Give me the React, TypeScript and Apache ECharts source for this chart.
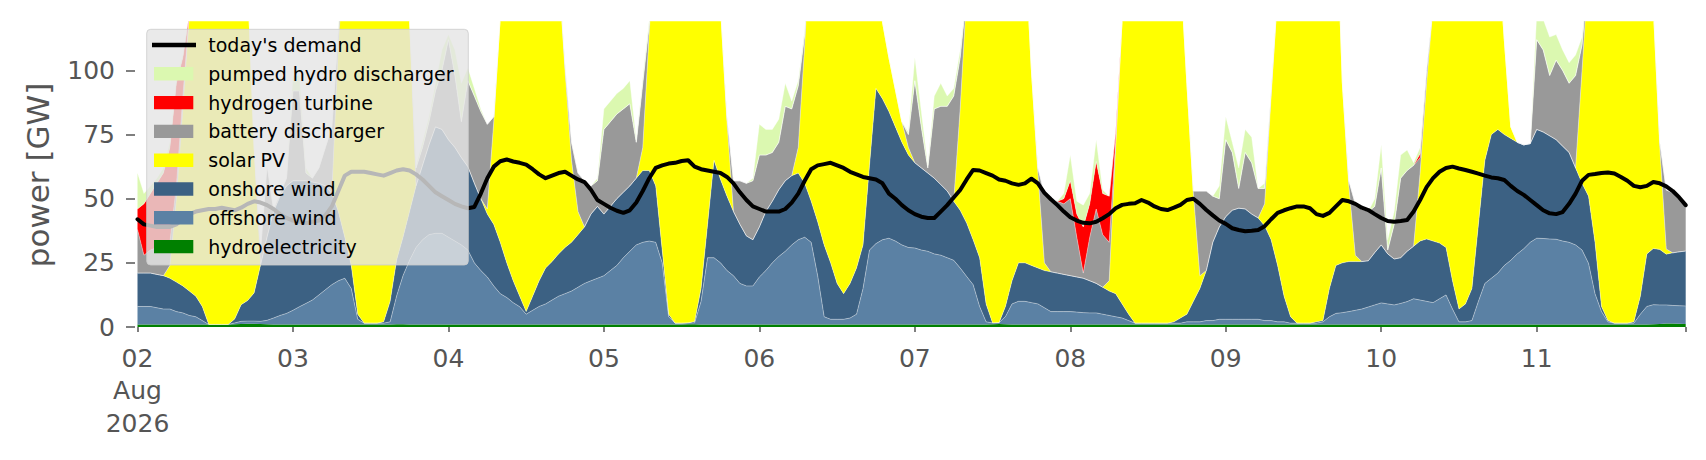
import React, { useEffect, useRef } from "react";
import * as echarts from "echarts";

const FONT = "'DejaVu Sans', 'Liberation Sans', sans-serif";

// x axis: hourly steps from 02 Aug 2026 00:00 to 11 Aug 23:00
const dayTickHours = [0, 24, 48, 72, 96, 120, 144, 168, 192, 216];
const dayTickLabels = ["02\nAug\n2026", "03", "04", "05", "06", "07", "08", "09", "10", "11"];
const lastHour = 239;
const yTicks = [0, 25, 50, 75, 100];
const yMax = 119;

// GW, hourly, one row per day (02 Aug ... 11 Aug)
const hydroelectricity = [
  1, 1, 1, 1, 1, 1, 1, 1, 1, 1, 1, 1, 1, 1, 1, 1.1, 1.2, 1.3, 1.3, 1.2, 1.1, 1, 1, 1,
  1, 1, 1, 1, 1, 1, 1, 1, 1, 1, 1, 1, 1, 1, 1, 1, 1.1, 1.1, 1, 1, 1, 1, 1, 1,
  1, 1, 1, 1, 1, 1, 1, 1, 1, 1, 1, 1, 1, 1, 1, 1, 1, 1, 1, 1, 1, 1, 1, 1,
  1, 1, 1, 1, 1, 1, 1, 1, 1, 1, 1, 1, 1, 1.1, 1.1, 1, 1, 1, 1, 1, 1, 1, 1, 1,
  1, 1, 1, 1, 1, 1, 1, 1, 1, 1, 1, 1, 1, 1, 1, 1, 1, 1, 1, 1, 1, 1, 1, 1,
  1, 1, 1, 1, 1, 1, 1, 1, 1, 1, 1, 1, 1.1, 1.2, 1.1, 1, 1, 1, 1, 1, 1, 1, 1, 1,
  1, 1, 1, 1, 1, 1, 1, 1, 1, 1, 1, 1, 1, 1, 1, 1, 1, 1, 1, 1, 1, 1, 1, 1,
  1, 1, 1, 1, 1, 1, 1, 1, 1, 1, 1, 1, 1, 1, 1, 1, 1, 1, 1, 1, 1, 1, 1, 1,
  1, 1, 1, 1, 1, 1, 1, 1, 1, 1, 1, 1, 1, 1, 1, 1, 1, 1, 1, 1, 1, 1, 1, 1,
  1, 1, 1, 1, 1, 1, 1, 1, 1, 1, 1, 1, 1, 1, 1, 1, 1, 1, 1.1, 1.2, 1.4, 1.4, 1.3, 1.2,
];

const offshoreWind = [
  7, 7, 7, 6.5, 6, 6, 5, 4.5, 3.5, 3, 1.5, 0, 0, 0, 0, 0.5, 1, 1, 1, 1, 1.5, 2.5, 3.5, 4.3,
  5.5, 6.9, 8.2, 9.5, 11.5, 13.5, 15.5, 17, 18, 14, 2, 0.5, 0.5, 0.5, 0.5, 1, 11, 19, 25, 30, 33, 35, 35.5, 35.5,
  34, 32.5, 31, 29, 24, 21, 18.5, 15, 12, 10.5, 8.5, 6.9, 4, 5.5, 7, 8, 9.5, 11, 12, 13, 14.5, 16, 17, 18,
  19, 21, 23, 26, 28.5, 31, 32, 32.5, 32, 24, 3, 0.5, 0.5, 0.5, 0.5, 9, 26, 26, 24, 21, 19, 16, 15, 15,
  18.5, 21, 24, 26.5, 28.5, 31, 33, 34, 32, 19, 3, 2, 2, 2, 2.5, 4, 14, 29, 31.5, 33, 33.6, 32.5, 31, 30,
  29.8, 29, 28.5, 27.5, 27, 26, 25, 22, 18.7, 15.5, 7, 1, 0.5, 0.5, 3, 8, 9, 9, 8.5, 8, 6.5, 5, 5, 5,
  5, 4.8, 4.6, 4.5, 4.5, 4, 3.5, 3, 2.5, 1.5, 0.5, 0.5, 0.5, 0.5, 0.5, 0.5, 0.5, 0.5, 1, 1, 1, 1.5, 1.5, 2,
  2, 2, 2, 2, 2, 2, 1.5, 1.5, 1, 1, 0.5, 0.5, 0.5, 0.5, 0.5, 1, 3, 4.3, 4.6, 5, 5.5, 6, 6.8, 7.6,
  8.4, 8, 7.6, 8.2, 8.9, 10, 9.5, 9, 8.5, 10, 11.5, 6, 1, 1, 1.5, 9, 16, 18, 20, 23, 25, 27.5, 29.5, 32,
  33.6, 33.5, 33.3, 33.2, 32.5, 32, 31, 29, 23.8, 12, 5, 1, 0.5, 0.5, 0.5, 0.5, 4, 7, 7.6, 7.4, 7.2, 7, 7, 7,
];

const onshoreWind = [
  13, 13, 13, 13, 13, 12, 11.5, 10.5, 9.5, 8, 5.5, 0, 0, 0, 0, 1.5, 6.5, 8, 11, 22, 32.5, 41.5, 46.5, 49.7,
  50.5, 49.1, 47.8, 46, 43.5, 40.5, 35.5, 27, 16, 9, 2, 0, 0, 0, 0.5, 8, 14, 15, 19, 24, 29, 35, 41.5, 40.5,
  38, 36.5, 34, 32.5, 31, 28, 24.5, 24, 20, 13.5, 8.5, 4.1, 1, 5.5, 10, 14, 15, 16.5, 18, 19, 20.5, 22, 26, 28,
  24, 25, 26, 25.5, 25.5, 26, 28, 27.5, 22, 5, 1, 0, 0, 0, 0.5, 5, 13, 38, 32.5, 29, 25, 23, 19.5, 18,
  19.5, 23, 24, 26, 27.5, 27, 26, 21, 16, 21, 28, 22, 14, 10, 13.5, 18, 17, 33, 60.5, 55, 49.4, 44.5, 40, 36,
  33.2, 32, 30.5, 29.5, 27.5, 26, 23, 22.5, 20.8, 17.5, 19, 7, 0, 0, 4, 9, 15, 15, 14.5, 14, 14.5, 15.5, 15, 14.5,
  14, 13.7, 13.4, 12.5, 11.5, 10.5, 9.5, 9, 5.5, 2.5, 0, 0, 0, 0, 0, 0, 0.5, 2, 3, 8, 13, 19.5, 30.5, 36,
  40, 42.5, 43.3, 43, 41, 39.5, 37, 31.5, 22, 10, 2.5, 0, 0, 0, 0.5, 0.5, 11, 18.7, 19.4, 19.5, 19, 18.5, 18, 20.4,
  22.6, 19.5, 17.9, 17.8, 19.6, 20.5, 23, 24.3, 24, 21.7, 18.5, 11, 5, 7, 12.5, 30, 48, 56, 56, 51, 47.5, 43.5, 40.5, 38.5,
  42.4, 41.5, 40.2, 38.8, 37, 35, 30, 26, 26.2, 20, 2, 0.5, 0, 0, 0, 0.5, 7, 20.5, 21.9, 21.6, 19.8, 20.5, 21, 21.4,
];

const solarPV = [
  0, 0, 0, 0, 0, 5, 32.5, 69, 108, 138, 157, 175, 180, 178, 170, 157, 141.5, 125, 57, 0, 0, 0, 0, 0,
  0, 0, 0, 0, 0, 0, 0, 65, 115, 140, 170, 180, 182, 180, 172, 150, 134, 115, 75, 0, 0, 0, 0, 0,
  0, 0, 0, 0, 0, 0, 2, 40, 88, 125, 147, 160, 170, 165, 160, 155, 148, 111.5, 69, 32, 9, 0, 0, 0,
  0, 0, 0, 0, 0, 0, 9, 54, 105, 140, 170, 178, 180, 178, 170, 155, 130, 95, 67.5, 29, 0, 0, 0, 0,
  0, 0, 0, 0, 0, 0, 10, 54, 110, 120, 135, 145, 155, 160, 155, 145, 135, 100, 60, 30, 21, 14.5, 8, 3,
  0, 0, 0, 0, 0, 0, 0, 39.5, 89.5, 120, 140, 160, 170, 172, 168, 160, 150, 125, 76, 37, 3, 0, 0, 0,
  0, 0, 0, 0, 0, 0, 4, 57, 111, 145, 165, 175, 180, 182, 180, 175, 165, 136.5, 90, 42, 5, 0, 0, 0,
  0, 0, 0, 0, 0, 0, 8.5, 56, 106, 140, 160, 170, 175, 175, 172, 170, 165, 146, 70, 29.5, 2.5, 0, 0, 0,
  0, 0, 0, 0, 0, 0, 26.5, 60.7, 91.5, 117.3, 135, 150, 160, 160, 155, 130, 110, 90, 73, 37, 4.5, 0, 0, 0,
  0, 0, 0, 0, 0, 0, 0, 44, 89, 125, 160, 170, 175, 178, 178, 172, 165, 155, 94.5, 40, 2, 0, 0, 0,
];

const batteryDischarger = [
  17, 7, 9, 10.5, 11, 9, 5, 5, 0, 0, 0, 0, 0, 0, 0, 0, 0, 0, 0, 6, 28, 1, 1, 3,
  35, 35, 3, 1.5, 6, 15, 26, 5, 0, 0, 0, 0, 0, 0, 0, 0, 0, 0, 0, 7, 7, 9, 14, 23,
  39, 28, 14, 33.5, 34, 34, 33, 2, 0, 0, 0, 0, 0, 0, 0, 0, 0, 0, 2, 7, 15, 18, 11, 10,
  33, 33, 33, 32.5, 32, 14, 25, 3, 0, 0, 0, 0, 0, 0, 0, 0, 0, 0, 0, 2, 12, 17, 20.5, 23,
  28, 22, 19, 18.5, 29, 26, 24, 4, 0, 0, 0, 0, 0, 0, 0, 0, 0, 0, 0, 0, 0, 0, 0, 5,
  32, 16, 2, 27, 30.5, 33, 41, 20, 0, 0, 0, 0, 0, 0, 0, 0, 0, 0, 0, 2, 27, 28.5, 28, 27.5,
  30, 15.5, 2, 17, 29, 20.5, 15, 2, 0, 0, 0, 0, 0, 0, 0, 0, 0, 0, 0, 1, 33, 31, 18, 11,
  30, 22.5, 7.7, 22, 20, 11.5, 6, 2, 0, 0, 0, 0, 0, 0, 0, 0, 0, 0, 0, 2, 20, 20.5, 19.2, 18,
  30, 1.5, 13.5, 31, 31.5, 31.5, 6, 5, 0, 0, 0, 0, 0, 0, 0, 0, 0, 0, 0, 0, 0, 0, 0, 0,
  35, 32, 23.5, 31, 29.5, 27, 36, 10, 0, 0, 0, 0, 0, 0, 0, 0, 0, 0, 0, 2, 23, 23.5, 21, 18.6,
];

const hydrogenTurbine = [
  8, 20, 22, 25, 29, 37, 40, 15, 0, 0, 0, 0, 0, 0, 0, 0, 0, 0, 0, 0, 0, 0, 0, 0,
  0, 0, 0, 0, 0, 0, 0, 0, 0, 0, 0, 0, 0, 0, 0, 0, 0, 0, 0, 0, 0, 0, 0, 0,
  0, 0, 0, 0, 0, 0, 0, 0, 0, 0, 0, 0, 0, 0, 0, 0, 0, 0, 0, 0, 0, 0, 0, 0,
  0, 0, 0, 0, 0, 0, 0, 0, 0, 0, 0, 0, 0, 0, 0, 0, 0, 0, 0, 0, 0, 0, 0, 0,
  0, 0, 0, 0, 0, 0, 0, 0, 0, 0, 0, 0, 0, 0, 0, 0, 0, 0, 0, 0, 0, 0, 0, 0,
  0, 0, 0, 0, 0, 0, 0, 0, 0, 0, 0, 0, 0, 0, 0, 0, 0, 0, 0, 0, 0, 0, 0, 2,
  7, 9, 18, 13, 18.5, 16, 18, 4, 0, 0, 0, 0, 0, 0, 0, 0, 0, 0, 0, 0, 0, 0, 0, 0,
  0, 0, 0, 0, 0, 0, 0, 0, 0, 0, 0, 0, 0, 0, 0, 0, 0, 0, 0, 0, 0, 0, 0, 0,
  0, 0, 0, 0, 0, 0, 1.5, 0, 0, 0, 0, 0, 0, 0, 0, 0, 0, 0, 0, 0, 0, 0, 0, 0,
  0, 0, 0, 0, 0, 0, 0, 0, 0, 0, 0, 0, 0, 0, 0, 0, 0, 0, 0, 0, 0, 0, 0, 0,
];

const pumpedHydroDischarger = [
  14, 4, 3, 2, 2, 2, 2, 1, 0, 0, 0, 0, 0, 0, 0, 0, 0, 0, 0, 0, 0, 0, 0, 0,
  6, 6, 2, 0, 0, 0, 0, 2, 0, 0, 0, 0, 0, 0, 0, 0, 0, 0, 0, 1, 2, 2, 3, 8,
  2, 10, 15, 5, 3, 1, 0, 0, 0, 0, 0, 0, 0, 0, 0, 0, 0, 0, 1, 0, 0, 0, 0, 1,
  8, 8, 8, 8, 9, 1, 2, 2, 0, 0, 0, 0, 0, 0, 0, 0, 0, 0, 0, 0, 0, 0, 0, 1,
  12, 10, 9, 9, 9, 3, 2, 2, 0, 0, 0, 0, 0, 0, 0, 0, 0, 0, 0, 0, 0, 0, 0, 1,
  9, 6, 1, 5, 9, 4, 3, 3, 0, 0, 0, 0, 0, 0, 0, 0, 0, 0, 0, 0, 0, 0, 0, 2,
  10, 5, 8.5, 4, 8.5, 1.5, 0, 0, 0, 0, 0, 0, 0, 0, 0, 0, 0, 0, 0, 0, 0, 0, 0, 5,
  9, 4, 8, 9, 10, 0, 2, 0, 0, 0, 0, 0, 0, 0, 0, 0, 0, 0, 0, 0, 0, 0, 0, 3,
  9, 4, 5, 9, 8, 1, 2.5, 0, 0, 0, 0, 0, 0, 0, 0, 0, 0, 0, 0, 0, 0, 0, 0, 0,
  10, 12, 15, 10, 8, 8, 8, 3, 0, 0, 0, 0, 0, 0, 0, 0, 0, 0, 0, 0, 0, 0, 0, 0,
];

const todaysDemand = [
  42, 40, 39.5, 39, 39, 39, 40, 42, 44, 45, 45.5, 46, 46, 46.5, 46, 45.5, 46.5, 48, 49, 48.5, 47.5, 46, 44, 42.5,
  41.5, 41, 40.5, 41, 41.5, 43.5, 47, 53, 59, 60.5, 60.5, 60.5, 60, 59.5, 59, 60, 61, 61.5, 61, 59.5, 57.5, 55, 52.5, 51,
  49.5, 48, 47, 46.3, 46.8, 52, 58, 62.5, 64.6, 65.3, 64.5, 64, 63.3, 61.5, 59.5, 58, 59, 60, 60.5, 59, 57.5, 56.5, 53.5, 49.5,
  48, 46.5, 45.3, 44.5, 45.5, 48.5, 53, 58, 62, 63, 63.7, 64, 64.7, 65, 62.5, 61.5, 61, 60.5, 60, 58.5, 56, 52.5, 49.5, 47,
  46, 45, 45, 45, 46, 48.5, 52, 57, 61.5, 63, 63.5, 64, 63, 62, 60.5, 59.5, 58.5, 58, 57.5, 56, 52, 50, 47.5, 45.5,
  44, 43, 42.5, 42.5, 45, 47.5, 50.5, 53.4, 57.5, 61.2, 61, 60, 59, 57.5, 57, 56, 55.4, 56, 57.8, 56, 52.3, 49.8, 47.5, 45,
  42.8, 41.5, 40.6, 40.4, 41, 42.4, 44, 46.3, 47.6, 48, 48.2, 49.5, 48.5, 47, 46, 45.6, 46.5, 47.6, 49.5, 50, 48, 45.6, 43.5, 41.5,
  40.2, 38.5, 37.8, 37.3, 37.5, 37.8, 39.3, 42, 44.5, 45.5, 46.3, 47, 47, 46.3, 44, 43.3, 44.5, 47, 49.5, 49, 48, 46.5, 45.6, 44,
  42.5, 41.3, 41, 41.3, 41.7, 45, 49.5, 54.5, 58, 60.5, 62, 62.5, 61.8, 61.2, 60.5, 59.8, 59, 58.3, 58, 57.3, 55, 53, 51.5, 49.5,
  47.5, 45.5, 44.3, 44, 44.8, 48, 52, 57, 59.3, 59.6, 60, 60.2, 59.8, 58.5, 57, 55, 54.5, 55, 56.5, 56, 54.8, 53, 50.5, 47.5,
];

// hourly category labels, 02 Aug 2026 00:00 ... 11 Aug 23:00
const hourLabels = todaysDemand.map((_, i) => {
  const day = 2 + Math.floor(i / 24);
  const hour = i % 24;
  return `2026-08-${String(day).padStart(2, "0")} ${String(hour).padStart(2, "0")}:00`;
});

// stacking order, bottom to top
const layers = [
  { name: "hydroelectricity", values: hydroelectricity, color: "#008000" },
  { name: "offshore wind", values: offshoreWind, color: "#5b81a4" },
  { name: "onshore wind", values: onshoreWind, color: "#3c6183" },
  { name: "solar PV", values: solarPV, color: "#ffff00" },
  { name: "battery discharger", values: batteryDischarger, color: "#999999" },
  { name: "hydrogen turbine", values: hydrogenTurbine, color: "#ff0000" },
  { name: "pumped hydro discharger", values: pumpedHydroDischarger, color: "#dbf8b0" },
];

const legendRows = [
  { label: "today's demand", color: "#000000", line: true },
  { label: "pumped hydro discharger", color: "#dbf8b0", line: false },
  { label: "hydrogen turbine", color: "#ff0000", line: false },
  { label: "battery discharger", color: "#999999", line: false },
  { label: "solar PV", color: "#ffff00", line: false },
  { label: "onshore wind", color: "#3c6183", line: false },
  { label: "offshore wind", color: "#5b81a4", line: false },
  { label: "hydroelectricity", color: "#008000", line: false },
];

export default function App() {
  const ref = useRef<HTMLDivElement>(null);

  useEffect(() => {
    if (!ref.current) return;
    const chart = echarts.init(ref.current, null, { renderer: "svg" });

    const series: any[] = layers.map((l, idx) => ({
      name: l.name,
      type: "line",
      stack: "supply",
      data: l.values,
      symbol: "none",
      showSymbol: false,
      smooth: false,
      clip: true,
      silent: true,
      lineStyle: { width: idx === 0 ? 0 : 0.7, color: "rgba(255,255,255,0.55)" },
      areaStyle: { color: l.color, opacity: 1 },
      itemStyle: { color: l.color },
      emphasis: { disabled: true },
      z: 2,
    }));
    series.push({
      name: "today's demand",
      type: "line",
      data: todaysDemand,
      symbol: "none",
      showSymbol: false,
      silent: true,
      lineStyle: { color: "#000000", width: 4, cap: "round", join: "round" },
      itemStyle: { color: "#000000" },
      emphasis: { disabled: true },
      z: 5,
    });

    const rowY = (i: number) => 45 + i * 28.8;
    const graphic: any[] = [
      {
        type: "rect",
        z: 100,
        silent: true,
        shape: { x: 146.7, y: 29.3, width: 321.6, height: 235.7, r: 4 },
        style: { fill: "rgba(229,229,229,0.8)", stroke: "rgba(204,204,204,0.8)", lineWidth: 1 },
      },
    ];
    legendRows.forEach((row, i) => {
      const cy = rowY(i);
      if (row.line) {
        graphic.push({
          type: "line",
          z: 101,
          silent: true,
          shape: { x1: 152, y1: cy, x2: 196, y2: cy },
          style: { stroke: row.color, lineWidth: 4.5 },
        });
      } else {
        graphic.push({
          type: "rect",
          z: 101,
          silent: true,
          shape: { x: 154, y: cy - 6.7, width: 39.3, height: 13.4 },
          style: { fill: row.color },
        });
      }
      graphic.push({
        type: "text",
        z: 101,
        silent: true,
        x: 208.3,
        y: cy,
        style: {
          text: row.label,
          fontSize: 19,
          fontFamily: FONT,
          fill: "#000000",
          align: "left",
          verticalAlign: "middle",
          textAlign: "left",
          textVerticalAlign: "middle",
        },
      });
    });
    graphic.push({
      type: "text",
      z: 101,
      silent: true,
      x: 37.5,
      y: 175,
      rotation: Math.PI / 2,
      style: {
        text: "power [GW]",
        fontSize: 31,
        fontFamily: FONT,
        fill: "#555555",
        align: "center",
        verticalAlign: "middle",
        textAlign: "center",
        textVerticalAlign: "middle",
      },
    });

    const isDayTick = (i: number) => dayTickHours.indexOf(i) >= 0;

    const option: any = {
      animation: false,
      backgroundColor: "#ffffff",
      textStyle: { fontFamily: FONT },
      grid: { left: 137.5, right: 20.3, top: 21.7, bottom: 133, outerBoundsMode: "none" },
      xAxis: {
        type: "category",
        data: hourLabels,
        boundaryGap: false,
        offset: 2,
        axisLine: { show: false },
        splitLine: { show: false },
        axisTick: {
          show: true,
          length: 5,
          lineStyle: { color: "#555555", width: 1.5 },
          interval: (i: number) => isDayTick(i) || i === lastHour,
        },
        axisLabel: {
          interval: (i: number) => isDayTick(i),
          formatter: (_v: string, i: number) => {
            const k = dayTickHours.indexOf(i);
            return k >= 0 ? dayTickLabels[k] : "";
          },
          fontSize: 25,
          lineHeight: 32.5,
          color: "#555555",
          fontFamily: FONT,
          margin: 13,
        },
      },
      yAxis: {
        type: "value",
        min: 0,
        max: yMax,
        interval: 25,
        offset: 2.5,
        axisLine: { show: false },
        splitLine: { show: false },
        axisTick: {
          show: true,
          length: 9,
          lineStyle: { color: "#555555", width: 1.5 },
          customValues: yTicks,
        },
        axisLabel: {
          customValues: yTicks,
          formatter: (v: number) => String(v),
          fontSize: 25,
          color: "#555555",
          fontFamily: FONT,
          margin: 20,
        },
      },
      series,
      graphic,
    };

    chart.setOption(option);
    return () => chart.dispose();
  }, []);

  return (
    <div
      ref={ref}
      style={{ position: "fixed", left: 0, top: 0, width: 1706, height: 460, background: "#ffffff" }}
    />
  );
}
